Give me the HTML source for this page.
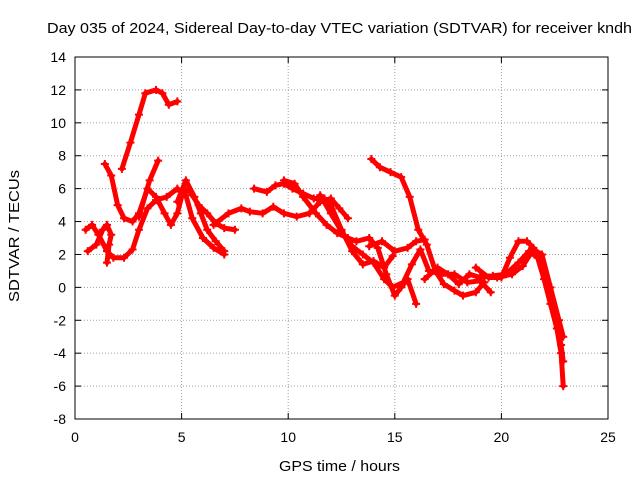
<!DOCTYPE html>
<html><head><meta charset="utf-8"><style>
html,body{margin:0;padding:0;background:#fff}
svg text{font-family:"Liberation Sans",sans-serif;font-size:14px;fill:#000}
</style></head><body>
<svg id="chart" width="640" height="480" xmlns="http://www.w3.org/2000/svg">
<text x="47" y="33" textLength="585" lengthAdjust="spacingAndGlyphs" style="font-size:15px">Day 035 of 2024, Sidereal Day-to-day VTEC variation (SDTVAR) for receiver kndh</text>
<text x="279" y="471" textLength="121" lengthAdjust="spacingAndGlyphs" style="font-size:15px">GPS time / hours</text>
<text transform="translate(19,302) rotate(-90)" textLength="132" lengthAdjust="spacingAndGlyphs" style="font-size:15px">SDTVAR / TECUs</text>
<g id="grid"></g><g id="series"></g><g id="axes"></g>
</svg>
<script>
const xTicks=[0,5,10,15,20,25];
const yTicks=[-8,-6,-4,-2,0,2,4,6,8,10,12,14];
const track1=[[2.2,7.2],[2.6,8.8],[3,10.5],[3.3,11.8],[3.8,12],[4.1,11.8],[4.4,11.1],[4.8,11.3]];
const track2=[[1.4,7.5],[1.7,6.8],[2,5],[2.3,4.2],[2.7,4],[3,4.5],[3.4,6],[3.8,5.5],[4.2,4.5],[4.5,3.8],[4.8,4.5],[5.1,6],[5.4,5.8],[5.8,5],[6.2,4.5],[6.6,3.9],[7,3.6],[7.5,3.5]];
const track3=[[0.5,3.5],[0.8,3.8],[1.1,3.2],[1.5,2.2],[1.8,1.8],[2.3,1.8],[2.7,2.3],[3,3.5],[3.4,4.8],[3.8,5.3],[4.3,5.5],[4.8,6],[5.2,5.6],[5.5,4.2],[6,3],[6.5,2.4],[7,2]];
const track4=[[0.6,2.2],[1,2.6],[1.3,3.5],[1.5,3.8],[1.7,3.2],[1.6,2.6],[1.5,1.5]];
const track5=[[3,4.3],[3.5,6.5],[3.9,7.7]];
const track6=[[4.8,5.2],[5.2,6.5],[5.6,5.5],[5.9,4.5],[6.2,3.5],[6.6,2.8],[7,2.2]];
const track7=[[6.5,3.8],[7.2,4.5],[7.8,4.8],[8.2,4.6],[8.8,4.5],[9.3,4.9],[9.8,4.5],[10.4,4.3],[11,4.5],[11.5,5.2],[12,5.4],[12.4,4.8],[12.8,4.2]];
const track8=[[8.4,6],[9,5.8],[9.4,6.2],[9.8,6.3],[10.2,6],[10.7,5.7],[11.2,5.4],[11.7,5.4],[12,5],[12.5,3.5],[13,2.2],[13.5,1.4],[14,1.6],[14.5,1.2],[14.9,1.9]];
const track9=[[9.8,6.5],[10.3,6.3],[10.7,5.5],[11.3,4.5],[11.8,3.8],[12.3,3.3],[12.8,3],[13.2,2.8],[13.8,3],[14.2,2.4],[14.6,0.8],[15,-0.5],[15.3,0],[15.6,0.5],[16,-1]];
const track10=[[11.5,5.6],[12,4.5],[12.5,3.4],[13,2.5],[13.5,2],[14,1.5],[14.5,0.5],[14.9,0],[15.4,0.3],[15.8,1.4],[16.2,2.3],[16.6,1],[17.2,0.8],[17.8,0.8],[18.4,0.3],[19,0.4],[19.5,-0.3]];
const track11=[[13.9,7.8],[14.3,7.3],[14.8,7],[15.3,6.7],[15.7,5.5],[16.1,3.5],[16.5,2.6],[16.9,1],[17.3,0.2],[17.8,-0.2],[18.2,-0.5],[18.8,-0.3],[19.2,0.3]];
const track12=[[13.8,2.5],[14.4,2.8],[15,2.2],[15.6,2.4],[16,2.8],[16.4,2.9]];
const track13=[[16.4,0.5],[17,1.2],[17.5,0.8],[18,0.2],[18.5,0.8],[19,0.6],[19.6,0.7],[20.2,0.8],[20.8,1.5],[21.3,2.2],[21.7,1.8],[22,0.5],[22.3,-1],[22.6,-2.5],[22.8,-4],[22.9,-6]];
const track14=[[18.8,1.2],[19.4,0.6],[20,0.6],[20.4,1.8],[20.8,2.8],[21.2,2.8],[21.5,2.4],[21.9,1.6],[22.2,0.2],[22.5,-1.5],[22.8,-3.5],[22.9,-4.5]];
const track15=[[19.8,0.6],[20.5,0.8],[21,1.3],[21.5,2.3],[21.9,2],[22.3,0],[22.7,-2],[22.9,-3]];
const tracks=[track1,track2,track3,track4,track5,track6,track7,track8,track9,track10,track11,track12,track13,track14,track15];

const L=75,R=608,T=57,B=419;
const sx=v=>L+(v-0)/(25-0)*(R-L);
const sy=v=>B-(v+8)/(14+8)*(B-T);
const NS='http://www.w3.org/2000/svg';
function mk(tag,parent,attrs){const e=document.createElementNS(NS,tag);for(const k in attrs)e.setAttribute(k,attrs[k]);parent.appendChild(e);return e;}
const grid=document.getElementById('grid'),axes=document.getElementById('axes'),ser=document.getElementById('series');
xTicks.forEach(t=>{
  const x=sx(t);
  if(t>0&&t<25){const g=mk('line',grid,{x1:x,x2:x,y1:T,y2:B,stroke:'#a0a0a0','stroke-dasharray':'1,2'});
  
  }
  mk('line',axes,{x1:x,x2:x,y1:B,y2:B-6,stroke:'#000'});
  mk('line',axes,{x1:x,x2:x,y1:T,y2:T+6,stroke:'#000'});
  const tx=mk('text',axes,{x:x,y:B+23,'text-anchor':'middle'});tx.textContent=t;
  
  
});
yTicks.forEach(t=>{
  const y=sy(t);
  if(t>-8&&t<14){const g=mk('line',grid,{x1:L,x2:R,y1:y,y2:y,stroke:'#a0a0a0','stroke-dasharray':'1,2'});
  
  }
  mk('line',axes,{x1:L,x2:L+6,y1:y,y2:y,stroke:'#000'});
  mk('line',axes,{x1:R,x2:R-6,y1:y,y2:y,stroke:'#000'});
  const tx=mk('text',axes,{x:L-9,y:y+5,'text-anchor':'end'});tx.textContent=t;
  
  
});
const fr=mk('rect',axes,{x:L,y:T,width:R-L,height:B-T,fill:'none',stroke:'#000'});


tracks.forEach((tr,i)=>{
  const p=mk('polyline',ser,{points:tr.map(d=>sx(d[0])+','+sy(d[1])).join(' '),fill:'none',stroke:'#f00','stroke-width':5,'stroke-linejoin':'round','stroke-linecap':'round'});
  
  
  tr.forEach(d=>{const x=sx(d[0]),y=sy(d[1]);
    const m=mk('path',ser,{d:`M${x-4},${y}h8M${x},${y-4}v8`,stroke:'#f00','stroke-width':2});
    
    
  });
});
</script>
</body></html>
